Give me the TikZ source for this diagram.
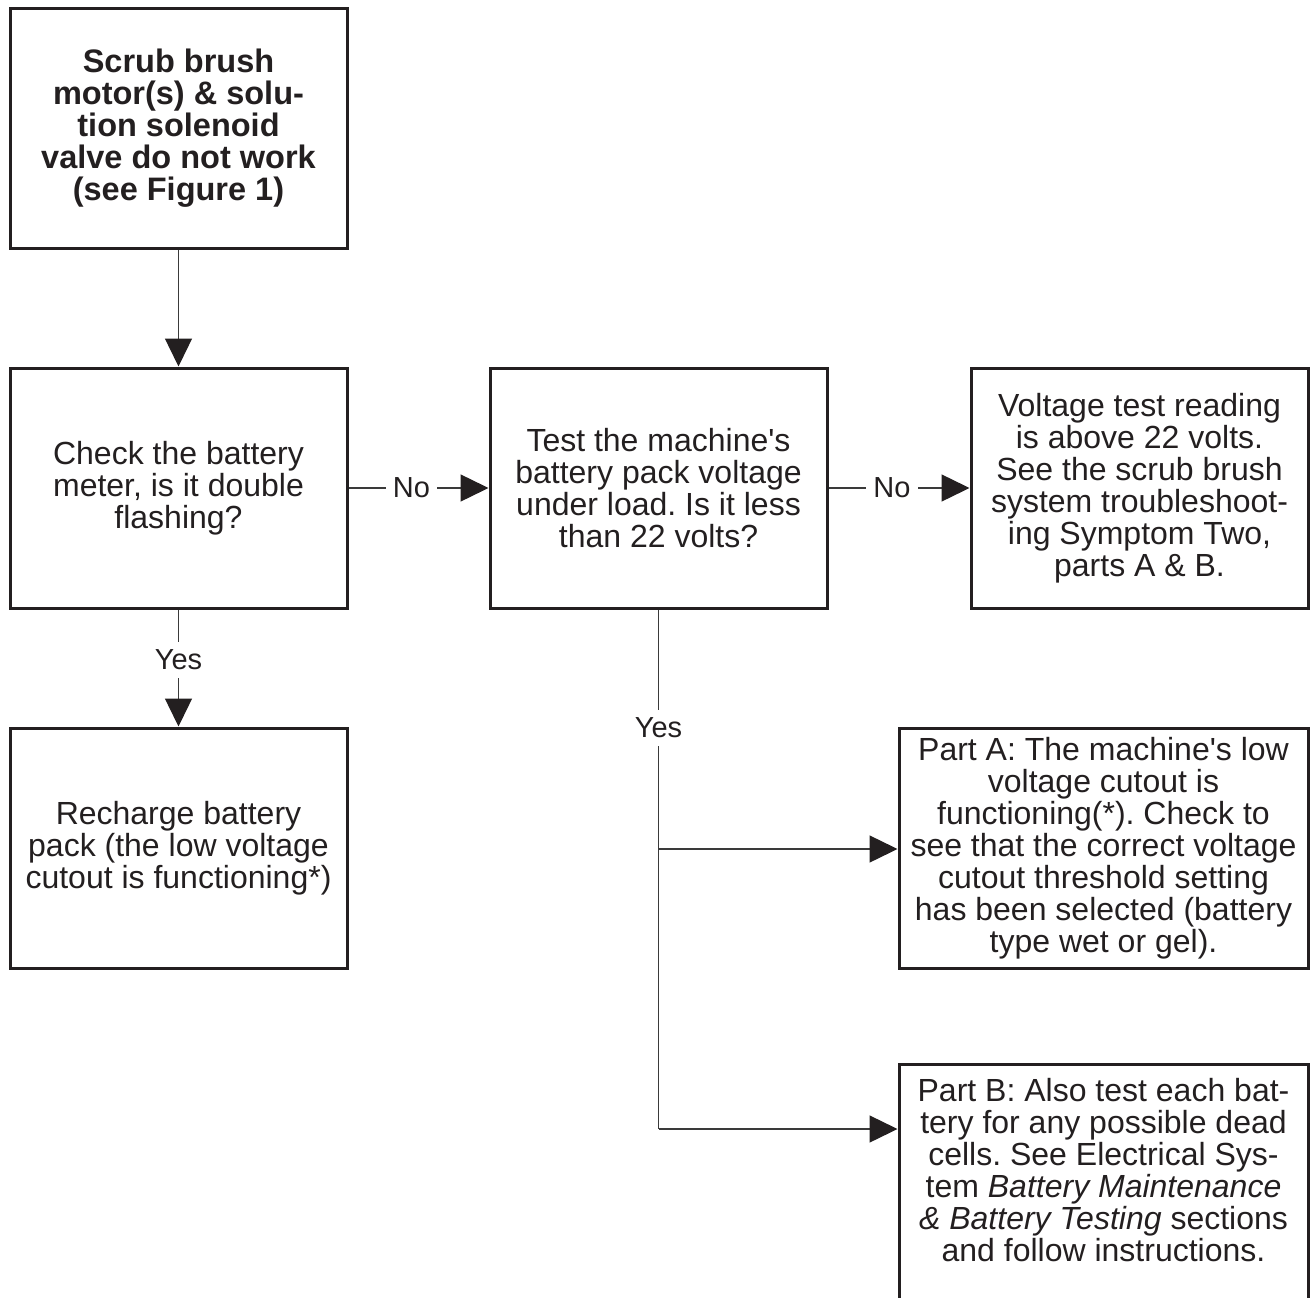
\documentclass[tikz,border=0pt]{standalone}
\usepackage{fontspec}
\setmainfont{Liberation Sans}[Ligatures=TeXOff]
\usetikzlibrary{arrows.meta}
\definecolor{ink}{HTML}{231F20}
\definecolor{wire}{HTML}{3A3A3A}
\begin{document}
\frenchspacing
\begin{tikzpicture}[x=1pt, y=-1pt,
  box/.style={draw=ink, line width=3pt, minimum width=337pt, minimum height=240pt,
              align=center, inner sep=0pt, text=ink, font=\fontsize{32}{32}\selectfont},
  widebox/.style={box, minimum width=409pt},
  txt/.style={align=center, inner sep=0pt, text=ink, font=\fontsize{32}{32}\selectfont},
  wireline/.style={draw=wire, line width=1.4pt},
  arr/.style={wireline, -{Triangle[length=28pt, width=27pt, color=ink]}},
  lbl/.style={fill=white, text=ink, inner xsep=7pt, inner ysep=8pt, font=\fontsize{29}{30}\selectfont}
]
\useasboundingbox (0,0) rectangle (1313,1297);

% boxes
\node[box, minimum height=239pt, font=\bfseries\fontsize{32.5}{32}\selectfont] (start) at (178.5,128.5)
  {Scrub brush\\motor(s) \& solu-\\tion solenoid\\valve do not work\\(see Figure 1)};
\node[box] (meter) at (178.5,488)
  {Check the battery\\meter, is it double\\flashing?};
\node[box] (load) at (658.5,488)
  {Test the machine's\\battery pack voltage\\under load. Is it less\\than 22 volts?};
\node[box] (above) at (1139.5,488)
  {Voltage test reading\\is above 22 volts.\\See the scrub brush\\system troubleshoot-\\ing Symptom Two,\\parts A \& B.};
\node[box] (recharge) at (178.5,848)
  {Recharge battery\\pack (the low voltage\\cutout is functioning*)};
\node[widebox] (partA) at (1103.5,848)
  {Part A: The machine's low\\voltage cutout is\\functioning(*). Check to\\see that the correct voltage\\cutout threshold setting\\has been selected (battery\\type wet or gel).};
\node[widebox, minimum height=260pt] (partB) at (1103.5,1194) {};
\node[txt] (partBtext) at (1103.5,1170)
  {Part B: Also test each bat-\\tery for any possible dead\\cells. See Electrical Sys-\\tem \textit{Battery Maintenance}\\\textit{\& Battery Testing} sections\\and follow instructions.};

% branch points on the "Yes" trunk
\coordinate (jA) at (658.5,849);
\coordinate (jB) at (658.5,1129);

% connectors
\draw[arr] (start) -- (meter);
\draw[arr] (meter) -- node[lbl, pos=0.45] {No} (load);
\draw[arr] (load) -- node[lbl, pos=0.45] {No} (above);
\draw[arr] (meter) -- node[lbl, pos=0.43] {Yes} (recharge);
\draw[wireline] (load.south) -- node[lbl, pos=0.228] {Yes} (jB);
\draw[arr] (jA) -- (jA -| partA.west);
\draw[arr] (jB) -- (jB -| partB.west);
\end{tikzpicture}
\end{document}
